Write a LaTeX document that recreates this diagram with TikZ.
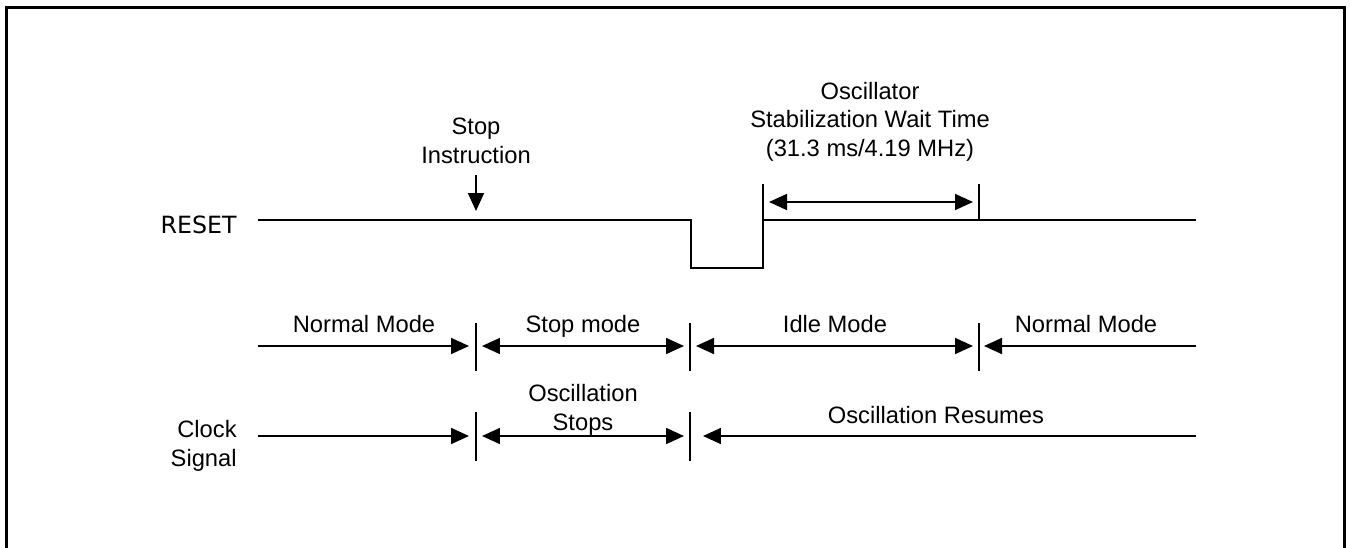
\documentclass[tikz,border=0pt]{standalone}
\usepackage{fontspec}
\setmainfont{Liberation Sans}
\newfontfamily\resetfont{DejaVu Sans}
\usetikzlibrary{arrows.meta}
\newcommand{\FT}{\fontsize{13.5}{16.2}\selectfont}

\begin{document}
\begin{tikzpicture}[x=0.02cm,y=-0.02cm,>={Triangle[length=0.36cm,width=0.32cm]}]
\tikzstyle{texto}=[draw=none,fill=none,black,font=\FT,align=center,inner sep=0pt]
\tikzstyle{line}=[black,line width=0.95pt]
\tikzstyle{frame}=[black,line width=1.5pt]

\useasboundingbox (0,0) rectangle (1350,548);
\draw[frame] (6.2,560) -- (6.2,7.8) -- (1344.5,7.8) -- (1344.5,560);

% RESET waveform
\node[texto,font=\FT\resetfont,anchor=base east] (reset) at (237,233) {RESET};
\draw[line] (258,220) -- (691,220) -- (691,268) -- (763,268) -- (763,220) -- (1196,220);

% ticks
\foreach \x/\ya/\yb in {763/184/220, 979/184/220,
                        476/323/371, 690/323/371, 979/323/371,
                        476/412/461, 690/412/461}
  \draw[line] (\x,\ya) -- (\x,\yb);

\coordinate (w1) at (763,202);
\coordinate (w2) at (979,202);
\coordinate (m0) at (258,346);
\coordinate (m1) at (476,346);
\coordinate (m2) at (690,346);
\coordinate (m3) at (979,346);
\coordinate (m4) at (1196,346);
\coordinate (c0) at (258,436);
\coordinate (c1) at (476,436);
\coordinate (c2) at (690,436);
\coordinate (c4) at (1196,436);

% labels (base = last line)
\node[texto,anchor=base] (stopins) at (476,163) {Stop\\Instruction};
\node[texto,anchor=base] (osc) at (870,156) {Oscillator\\Stabilization Wait Time\\(31.3 ms/4.19 MHz)};
\node[texto,anchor=base] (nm1) at (364,332) {Normal Mode};
\node[texto,anchor=base] (sm) at (583,332) {Stop mode};
\node[texto,anchor=base] (im) at (835,332) {Idle Mode};
\node[texto,anchor=base] (nm2) at (1086,332) {Normal Mode};
\node[texto,anchor=base east,align=right] (clk) at (237,466) {Clock\\Signal};
\node[texto,anchor=base] (ostop) at (583,430) {Oscillation\\Stops};
\node[texto,anchor=base] (ores) at (936,423) {Oscillation Resumes};

% arrows
\draw[line,->] (stopins.south |- 0,175) -- (stopins.south |- 0,211);
\draw[line,<->,shorten <=0.12cm,shorten >=0.12cm] (w1) -- (w2);
\draw[line,->,shorten >=0.14cm] (m0) -- (m1);
\draw[line,<->,shorten <=0.12cm,shorten >=0.12cm] (m1) -- (m2);
\draw[line,<->,shorten <=0.12cm,shorten >=0.12cm] (m2) -- (m3);
\draw[line,->,shorten >=0.1cm] (m4) -- (m3);
\draw[line,->,shorten >=0.14cm] (c0) -- (c1);
\draw[line,<->,shorten <=0.12cm,shorten >=0.12cm] (c1) -- (c2);
\draw[line,->,shorten >=0.26cm] (c4) -- (c2);
\end{tikzpicture}
\end{document}
